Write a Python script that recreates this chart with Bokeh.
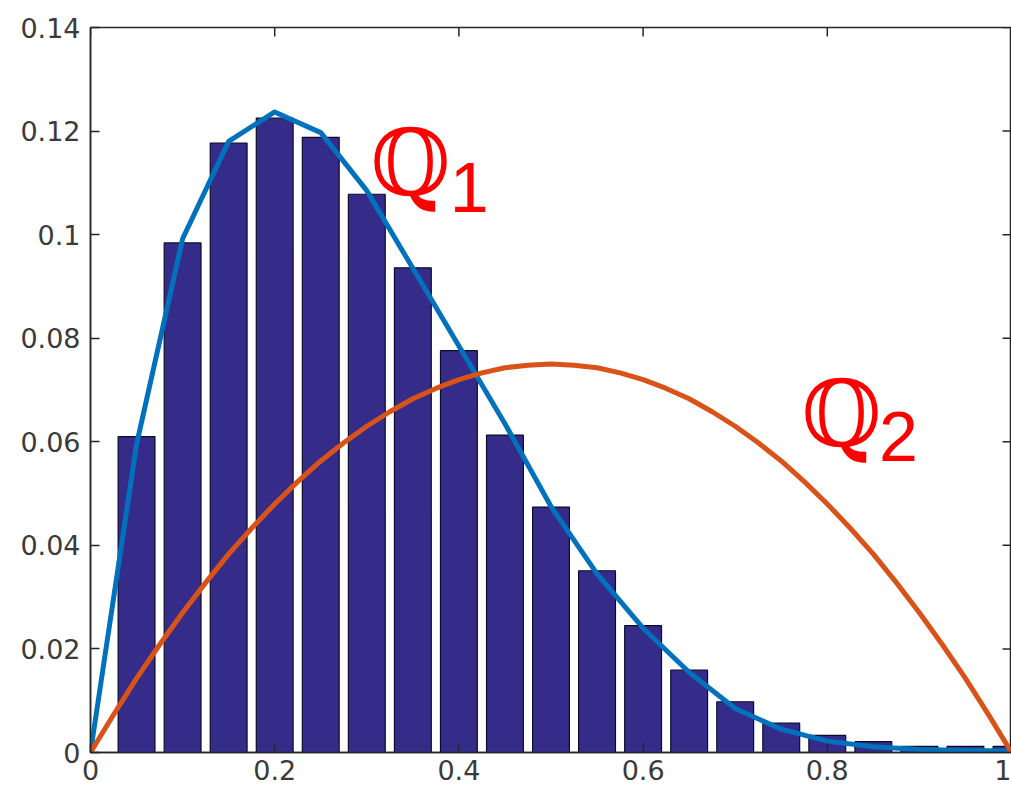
import math
from bokeh.plotting import figure
from bokeh.models import LinearAxis, FixedTicker, Range1d, Label
from bokeh.embed import file_html
from bokeh.resources import INLINE

# Histogram of Q1 samples (bin centres and heights)
bin_centers = [0.05, 0.10, 0.15, 0.20, 0.25, 0.30, 0.35, 0.40, 0.45, 0.50,
               0.55, 0.60, 0.65, 0.70, 0.75, 0.80, 0.85, 0.90, 0.95, 1.00]
bar_heights = [0.0610, 0.0984, 0.1177, 0.1225, 0.1188, 0.1078, 0.0936, 0.0776, 0.0613, 0.0474,
               0.0351, 0.0245, 0.0159, 0.0098, 0.0057, 0.0033, 0.0021, 0.0012, 0.0012, 0.0012]

# Q1 density curve
q1_x = [0.00, 0.05, 0.10, 0.15, 0.20, 0.25, 0.30, 0.35, 0.40, 0.45, 0.50,
        0.55, 0.60, 0.65, 0.70, 0.75, 0.80, 0.85, 0.90, 0.95, 1.00]
q1_y = [0.0, 0.0595, 0.0992, 0.1180, 0.1237, 0.1197, 0.1085, 0.0935, 0.0785, 0.0635, 0.0475,
        0.0345, 0.0240, 0.0155, 0.0085, 0.0045, 0.0022, 0.0011, 0.0006, 0.0004, 0.0003]

# Q2 density curve
q2_x = [0.000, 0.025, 0.050, 0.075, 0.100, 0.125, 0.150, 0.175, 0.200, 0.225, 0.250,
        0.275, 0.300, 0.325, 0.350, 0.375, 0.400, 0.425, 0.450, 0.475, 0.500,
        0.525, 0.550, 0.575, 0.600, 0.625, 0.650, 0.675, 0.700, 0.725, 0.750,
        0.775, 0.800, 0.825, 0.850, 0.875, 0.900, 0.925, 0.950, 0.975, 1.000]
q2_y = [0.0, 0.0073, 0.0143, 0.0208, 0.0270, 0.0328, 0.0383, 0.0433, 0.0480, 0.0523, 0.0563,
        0.0598, 0.0630, 0.0658, 0.0683, 0.0703, 0.0720, 0.0733, 0.0743, 0.0748, 0.0750,
        0.0748, 0.0743, 0.0733, 0.0720, 0.0703, 0.0683, 0.0658, 0.0630, 0.0598, 0.0563,
        0.0523, 0.0480, 0.0433, 0.0383, 0.0328, 0.0270, 0.0208, 0.0143, 0.0073, 0.0]

x_ticks = [0, 0.2, 0.4, 0.6, 0.8, 1.0]
x_tick_labels = ["0", "0.2", "0.4", "0.6", "0.8", "1"]
y_ticks = [0, 0.02, 0.04, 0.06, 0.08, 0.1, 0.12, 0.14]
y_tick_labels = ["0", "0.02", "0.04", "0.06", "0.08", "0.1", "0.12", "0.14"]

X_MIN, X_MAX = 0, 1
Y_MIN, Y_MAX = 0, 0.14

AXIS_COLOR = "#262626"
FONT = "DejaVu Sans"
TICK_LEN = 9

p = figure(width=1011, height=792, output_backend="svg", toolbar_location=None,
           x_range=Range1d(X_MIN, X_MAX), y_range=Range1d(Y_MIN, Y_MAX),
           x_axis_location=None, y_axis_location=None,
           min_border_left=90, min_border_right=0, min_border_top=27, min_border_bottom=40)
p.background_fill_color = "white"
p.border_fill_color = "white"
p.outline_line_color = AXIS_COLOR
p.outline_line_width = 1.5
p.xgrid.visible = False
p.ygrid.visible = False


def make_axis(ticks, labels, standoff):
    ax = LinearAxis(ticker=FixedTicker(ticks=ticks))
    ax.major_label_overrides = {t: s for t, s in zip(ticks, labels)}
    ax.axis_line_color = AXIS_COLOR
    ax.axis_line_width = 1.5
    ax.major_tick_line_color = AXIS_COLOR
    ax.major_tick_line_width = 1.5
    ax.major_tick_in = TICK_LEN
    ax.major_tick_out = 0
    ax.minor_tick_line_color = None
    ax.major_label_text_font = FONT
    ax.major_label_text_font_size = "27px"
    ax.major_label_text_color = "#3a3a3a"
    ax.major_label_standoff = standoff
    return ax


p.add_layout(make_axis(x_ticks, x_tick_labels, 7), "below")
p.add_layout(make_axis(y_ticks, y_tick_labels, 10), "left")

# mirrored inward ticks on the top and right edges of the box
p.ray(x=x_ticks, y=[Y_MAX] * len(x_ticks), length=TICK_LEN, length_units="screen",
      angle=-math.pi / 2, line_color=AXIS_COLOR, line_width=1.5)
p.ray(x=[X_MAX] * len(y_ticks), y=y_ticks, length=TICK_LEN, length_units="screen",
      angle=math.pi, line_color=AXIS_COLOR, line_width=1.5)

# histogram bars
p.vbar(x=bin_centers, top=bar_heights, bottom=0, width=0.04,
       fill_color="#352C8A", line_color="#0d0b2a", line_width=1.2)

# density curves
p.line(q1_x, q1_y, line_color="#0072BD", line_width=5, line_join="round")
p.line(q2_x, q2_y, line_color="#D95319", line_width=5, line_join="round")

# curve labels
for qx, qy, sx, sy, sub in [(0.304, 0.1138, 0.390, 0.1092, "1"),
                            (0.772, 0.0652, 0.856, 0.0610, "2")]:
    p.add_layout(Label(x=qx, y=qy, text="\u211a", text_font="DejaVu Serif", text_font_size="92px",
                       text_color="red", text_baseline="alphabetic", text_align="left"))
    p.add_layout(Label(x=sx, y=sy, text=sub, text_font="Liberation Sans", text_font_size="70px",
                       text_color="red", text_baseline="alphabetic", text_align="left"))

open("out.html", "w").write(file_html(p, INLINE))
